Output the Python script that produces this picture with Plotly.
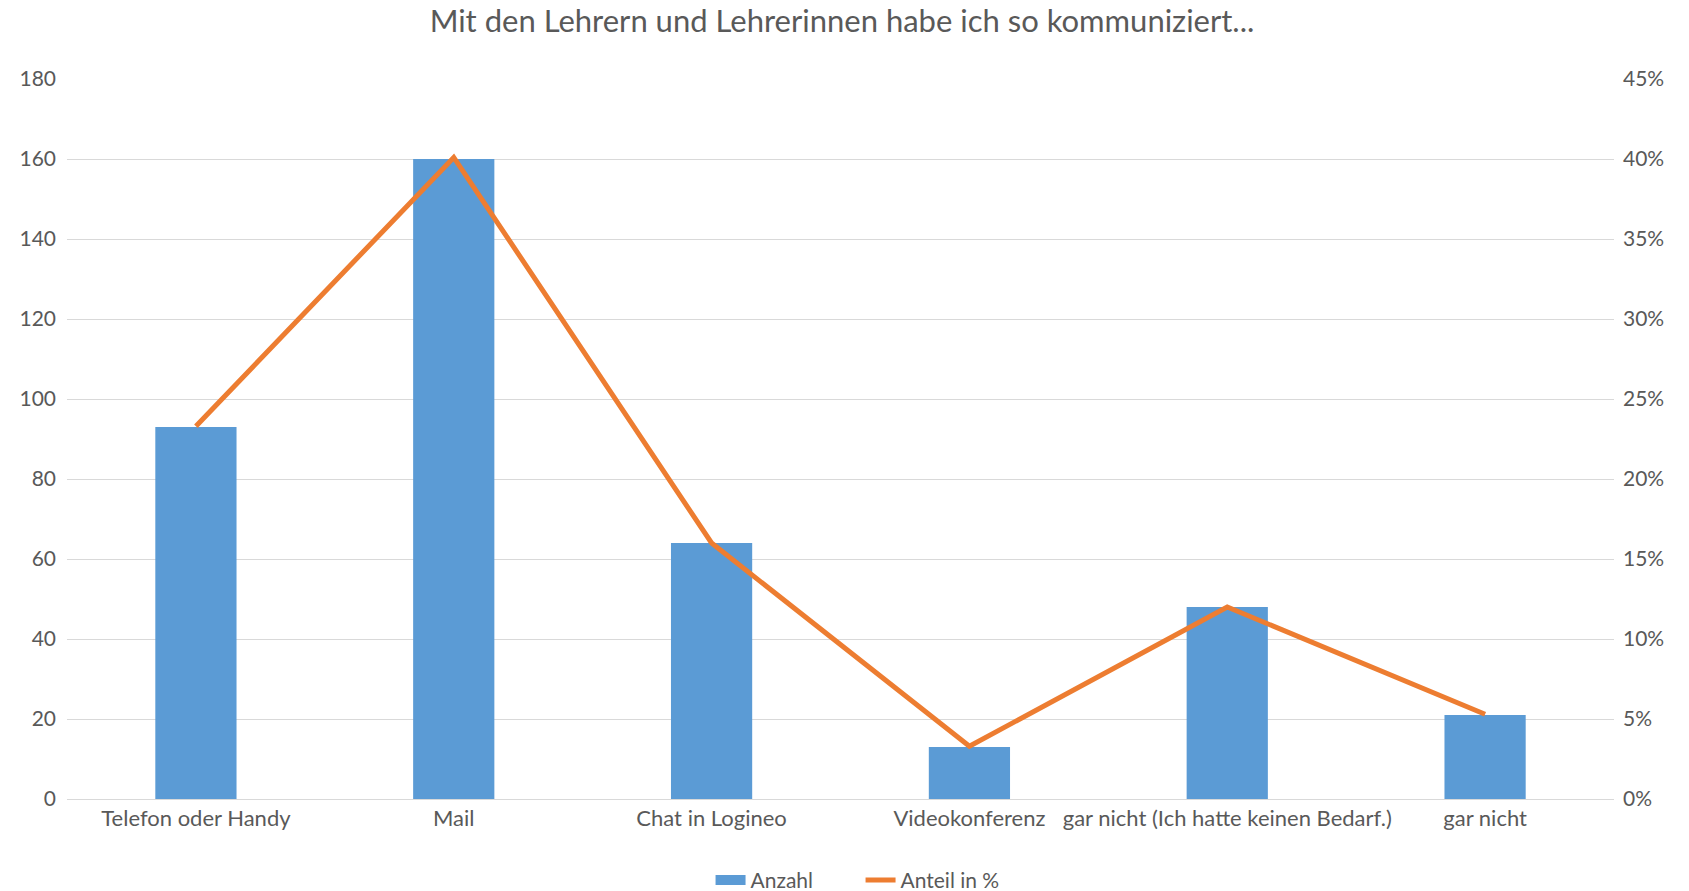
import plotly.graph_objects as go

categories = ["Telefon oder Handy", "Mail", "Chat in Logineo", "Videokonferenz",
              "gar nicht (Ich hatte keinen Bedarf.)", "gar nicht"]
anzahl = [93, 160, 64, 13, 48, 21]
anteil = [0.233, 0.401, 0.160, 0.033, 0.120, 0.053]

left_ticks = [0, 20, 40, 60, 80, 100, 120, 140, 160, 180]
right_ticks = [0, 0.05, 0.10, 0.15, 0.20, 0.25, 0.30, 0.35, 0.40, 0.45]

FONT = "Lato"
TXT = "#595959"
BLUE = "#5B9BD5"
ORANGE = "#ED7D31"

fig = go.Figure()
fig.add_trace(go.Bar(x=categories, y=anzahl, name="Anzahl", showlegend=False,
                     marker=dict(color=BLUE, line=dict(width=0)), yaxis="y"))
fig.add_trace(go.Scatter(x=categories, y=anteil, name="Anteil in %", mode="lines",
                         showlegend=False,
                         line=dict(color=ORANGE, width=5), yaxis="y2"))
# legend entries (wide symbols like the original)
fig.add_trace(go.Scatter(x=[None], y=[None], name="Anzahl", mode="lines",
                         line=dict(color=BLUE, width=14), yaxis="y", hoverinfo="skip"))
fig.add_trace(go.Scatter(x=[None], y=[None], name="Anteil in %", mode="lines",
                         line=dict(color=ORANGE, width=5), yaxis="y2", hoverinfo="skip"))

fig.update_layout(
    width=1689, height=891,
    paper_bgcolor="white", plot_bgcolor="white",
    margin=dict(l=67, r=75, t=79, b=92, autoexpand=False),
    font=dict(family=FONT, color=TXT, size=21),
    title=dict(text="Mit den Lehrern und Lehrerinnen habe ich so kommuniziert...",
               x=0.4985, xanchor="center", y=0.976, yanchor="middle",
               font=dict(family=FONT, size=31, color=TXT)),
    bargap=0.685,
    showlegend=True,
    legend=dict(orientation="h", x=0.416, xanchor="left", y=-0.113, yanchor="middle",
                entrywidth=105, entrywidthmode="pixels",
                font=dict(family=FONT, size=21, color=TXT)),
    xaxis=dict(type="category", range=[-0.5, 5.5], showgrid=False, showline=False,
               zeroline=False, ticks="", ticklabelstandoff=4,
               tickfont=dict(family=FONT, size=22, color=TXT)),
    yaxis=dict(range=[0, 180], tickvals=left_ticks, showgrid=True, gridcolor="#D9D9D9",
               gridwidth=1.3, zeroline=True, zerolinecolor="#D9D9D9", zerolinewidth=1.3,
               showline=False, ticks="", ticklabelstandoff=10,
               tickfont=dict(family=FONT, size=21, color=TXT)),
    yaxis2=dict(range=[0, 0.45], tickvals=right_ticks, tickformat=".0%", overlaying="y",
                side="right", showgrid=False, zeroline=False, showline=False, ticks="",
                ticklabelstandoff=8, tickfont=dict(family=FONT, size=21, color=TXT)),
)

fig.write_html("out.html", config={"displayModeBar": False},
               post_script="document.body.style.margin='0px';")
